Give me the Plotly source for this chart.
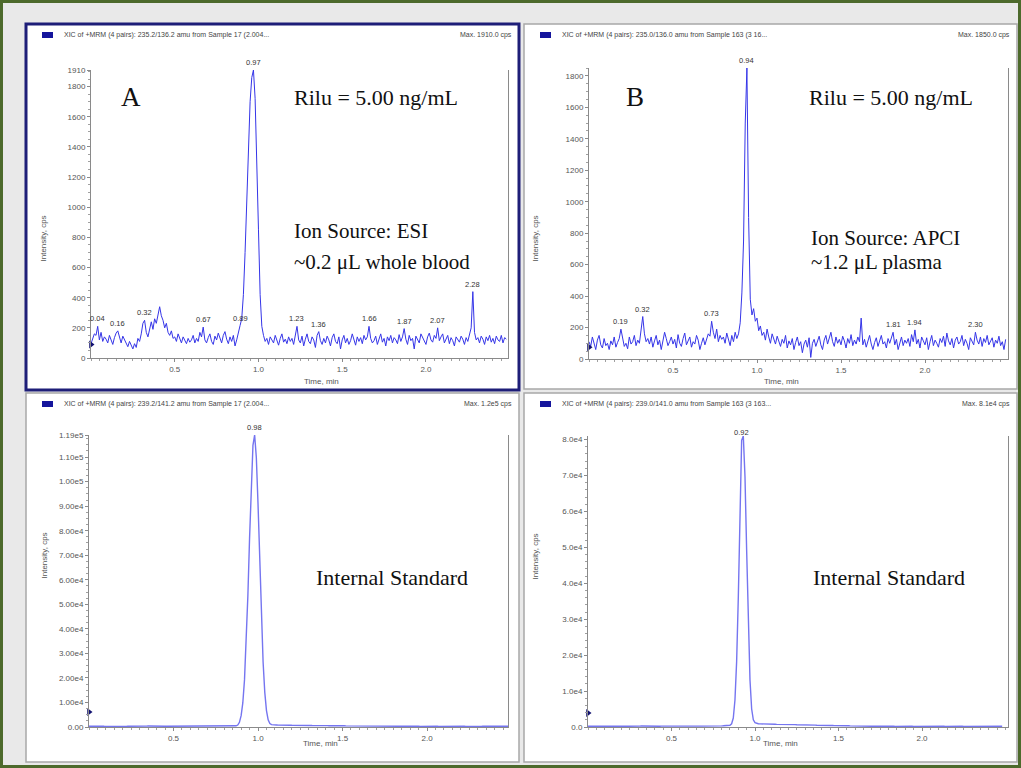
import plotly.graph_objects as go

W, H = 1021, 768

# ---------------- data ----------------
time_start = 0.0
time_step = 0.01

# Panel A: Rilu XIC, ESI (cps), t = 0.00 ... 2.48 min
rilu_esi = [
    95, 130, 160, 150, 210, 120, 170, 110, 140, 125,
    100, 150, 120, 90, 135, 165, 180, 130, 100, 145,
    120, 95, 75, 110, 80, 60, 95, 70, 130, 110,
    160, 230, 250, 170, 140, 200, 240, 190, 260, 230,
    300, 340, 280, 250, 200, 230, 170, 150, 180, 130,
    140, 110, 160, 125, 100, 140, 115, 95, 130, 105,
    120, 150, 100, 130, 110, 170, 140, 205, 120, 100,
    135, 160, 110, 90, 145, 120, 165, 130, 100, 150,
    175, 125, 95, 140, 110, 150, 80, 120, 160, 215,
    260, 420, 700, 1050, 1420, 1700, 1860, 1910, 1720, 1350,
    850, 420, 210, 150, 110, 130, 90, 140, 120, 100,
    150, 115, 85, 130, 160, 105, 125, 95, 140, 110,
    130, 90, 150, 210, 120, 100, 145, 80, 125, 160,
    110, 95, 140, 120, 70, 150, 175, 115, 90, 130,
    100, 145, 120, 80, 135, 160, 110, 95, 140, 60,
    120, 150, 100, 130, 90, 115, 160, 125, 85, 140,
    110, 135, 95, 150, 120, 140, 210, 130, 100, 115,
    145, 90, 125, 160, 105, 130, 80, 140, 115, 150,
    100, 135, 120, 95, 155, 110, 140, 195, 125, 90,
    150, 115, 130, 60, 145, 120, 100, 160, 135, 110,
    90, 140, 165, 120, 105, 150, 130, 200, 115, 140,
    160, 100, 125, 150, 95, 135, 115, 80, 140, 120,
    105, 145, 125, 90, 135, 110, 150, 200, 440, 170,
    120, 135, 100, 145, 125, 90, 140, 115, 150, 105,
    130, 95, 145, 120, 110, 150, 100, 135, 125,
]

# Panel B: Rilu XIC, APCI (cps)
rilu_apci = [
    110, 80, 140, 95, 60, 120, 150, 90, 70, 130,
    85, 100, 60, 115, 90, 140, 75, 105, 130, 190,
    120, 80, 100, 65, 140, 95, 110, 150, 85, 120,
    100, 180, 270, 160, 110, 130, 95, 140, 75, 115,
    150, 90, 120, 60, 105, 170, 130, 85, 110, 140,
    95, 125, 70, 155, 100, 80, 130, 165, 90, 115,
    140, 75, 110, 95, 150, 120, 60, 100, 135, 90,
    120, 160, 145, 240, 170, 130, 190, 110, 150, 125,
    140, 100, 165, 120, 85, 150, 110, 170, 130, 160,
    230, 420, 750, 1500, 1850, 900, 380, 280, 320, 240,
    260, 180, 210, 150, 170, 120, 190, 140, 100, 160,
    130, 95, 145, 110, 80, 125, 100, 150, 70, 115,
    90, 130, 60, 105, 140, 85, 110, 40, 95, 120,
    75, 135, 10, 100, 125, 80, 110, 145, 90, 60,
    120, 150, 95, 130, 170, 110, 80, 140, 100, 125,
    90, 145, 115, 70, 130, 100, 155, 85, 120, 95,
    140, 110, 260, 90, 125, 75, 115, 150, 95, 60,
    105, 135, 80, 120, 150, 95, 110, 70, 130, 100,
    145, 170, 90, 125, 60, 110, 140, 85, 120, 100,
    130, 80, 155, 110, 185, 95, 125, 70, 140, 115,
    90, 135, 60, 110, 150, 85, 120, 100, 75, 130,
    105, 145, 80, 165, 115, 90, 130, 70, 120, 140,
    95, 110, 150, 85, 125, 100, 60, 135, 115, 90,
    170, 120, 95, 140, 80, 130, 105, 150, 90, 115,
    135, 75, 120, 100, 145, 85, 110, 60, 125,
]

# Internal standard XIC, ESI (cps)
is_esi = [
    320, 280, 300, 260, 290, 310, 270, 250, 300, 280,
    260, 300, 290, 270, 310, 280, 260, 300, 270, 290,
    300, 280, 260, 310, 290, 270, 300, 280, 260, 290,
    310, 350, 380, 340, 360, 400, 420, 380, 350, 330,
    360, 390, 410, 370, 340, 320, 300, 310, 290, 280,
    300, 270, 290, 310, 280, 260, 300, 290, 270, 300,
    280, 260, 300, 290, 270, 310, 290, 300, 280, 270,
    300, 290, 320, 280, 300, 310, 290, 330, 350, 380,
    330, 350, 340, 370, 360, 390, 420, 480, 800, 1900,
    4600, 9800, 19200, 33800, 53600, 77000, 99400, 114800, 119000, 109800,
    90900, 67400, 44600, 26500, 14100, 6700, 2900, 1400, 950, 820,
    780, 800, 760, 790, 740, 760, 720, 750, 700, 730,
    690, 710, 670, 700, 650, 680, 640, 660, 620, 650,
    610, 630, 590, 620, 580, 600, 560, 590, 550, 570,
    540, 560, 520, 550, 510, 530, 500, 520, 480, 500,
    470, 490, 450, 460, 430, 420, 400, 390, 380, 370,
    440, 420, 400, 410, 390, 380, 370, 360, 380, 350,
    340, 360, 330, 350, 320, 340, 310, 330, 300, 320,
    310, 290, 320, 300, 280, 310, 290, 270, 300, 280,
    290, 270, 300, 280, 260, 290, 270, 300, 280, 260,
    280, 300, 270, 290, 260, 280, 300, 270, 290, 260,
    270, 290, 260, 300, 280, 270, 290, 260, 280, 300,
    280, 260, 290, 270, 300, 280, 260, 290, 270, 280,
    260, 290, 270, 280, 300, 270, 260, 290, 280, 270,
    290, 270, 280, 260, 300, 280, 270, 290, 280,
]

# Internal standard XIC, APCI (cps)
is_apci = [
    200, 180, 210, 190, 220, 200, 180, 210, 190, 200,
    210, 190, 200, 220, 180, 200, 210, 190, 200, 180,
    200, 220, 190, 210, 200, 180, 210, 200, 190, 220,
    230, 250, 260, 240, 270, 250, 240, 260, 230, 250,
    240, 230, 250, 220, 240, 230, 210, 230, 220, 240,
    220, 210, 230, 200, 220, 210, 230, 200, 220, 210,
    210, 230, 200, 220, 210, 240, 220, 230, 250, 240,
    260, 250, 270, 260, 280, 270, 290, 280, 300, 310,
    320, 340, 360, 380, 420, 500, 900, 2500, 7500, 18200,
    36000, 57900, 79800, 81000, 69800, 49100, 28100, 13100, 5000, 2000,
    1200, 950, 910, 870, 880, 840, 850, 810, 820, 780,
    790, 760, 775, 740, 750, 725, 735, 700, 715, 690,
    695, 660, 675, 640, 655, 620, 630, 600, 610, 585,
    590, 560, 575, 540, 550, 525, 535, 500, 515, 480,
    490, 465, 470, 440, 455, 420, 430, 400, 415, 385,
    390, 365, 375, 340, 350, 325, 335, 300, 310, 285,
    290, 265, 275, 250, 255, 235, 240, 215, 225, 200,
    210, 190, 205, 185, 200, 180, 195, 185, 200, 180,
    190, 200, 185, 195, 180, 200, 190, 185, 200, 190,
    185, 195, 180, 200, 190, 185, 195, 180, 200, 185,
    190, 200, 185, 195, 180, 190, 200, 185, 195, 180,
    200, 190, 185, 195, 180, 200, 190, 185, 195, 200,
    185, 190, 200, 180, 195, 185, 190, 200, 185, 195,
    180, 200, 190, 185, 195, 180, 190, 200, 185, 190,
    195, 185, 200, 180, 190, 195, 185, 200, 190,
]

peaks_rilu_esi = [0.04, 0.16, 0.32, 0.67, 0.89, 0.97, 1.23, 1.36, 1.66, 1.87, 2.07, 2.28]
peaks_rilu_apci = [0.19, 0.32, 0.73, 0.94, 1.81, 1.94, 2.30]
peaks_is_esi = [0.98]
peaks_is_apci = [0.92]

# baseline-threshold markers drawn by the software on the y axis
threshold_levels = [90, 75, 6100, 3900]

headers = [
    ("XIC of +MRM (4 pairs): 235.2/136.2 amu from Sample 17 (2.004...", "Max. 1910.0 cps"),
    ("XIC of +MRM (4 pairs): 235.0/136.0 amu from Sample 163 (3 16...", "Max. 1850.0 cps"),
    ("XIC of +MRM (4 pairs): 239.2/141.2 amu from Sample 17 (2.004...", "Max. 1.2e5 cps"),
    ("XIC of +MRM (4 pairs): 239.0/141.0 amu from Sample 163 (3 163...", "Max. 8.1e4 cps"),
]

y_ticks_a = [0, 200, 400, 600, 800, 1000, 1200, 1400, 1600, 1800, 1910]
y_ticks_b = [0, 200, 400, 600, 800, 1000, 1200, 1400, 1600, 1800]
y_ticks_c = [0, 1e4, 2e4, 3e4, 4e4, 5e4, 6e4, 7e4, 8e4, 9e4, 1.0e5, 1.1e5, 1.19e5]
y_text_c = ["0.00", "1.00e4", "2.00e4", "3.00e4", "4.00e4", "5.00e4", "6.00e4",
            "7.00e4", "8.00e4", "9.00e4", "1.00e5", "1.10e5", "1.19e5"]
y_ticks_d = [0, 1e4, 2e4, 3e4, 4e4, 5e4, 6e4, 7e4, 8e4]
y_text_d = ["0.0", "1.0e4", "2.0e4", "3.0e4", "4.0e4", "5.0e4", "6.0e4", "7.0e4", "8.0e4"]
x_ticks = [0.5, 1.0, 1.5, 2.0]
x_text = ["0.5", "1.0", "1.5", "2.0"]

# ---------------- layout helpers ----------------
def px(x):
    return x / W

def py(y):
    return 1 - y / H

SANS = "Liberation Sans, Arial, sans-serif"
SERIF = "Liberation Serif, Times New Roman, serif"
TICKC = "#555555"
AXC = "#8a8a8a"

panels = [
    dict(s=rilu_esi, peaks=peaks_rilu_esi, yt=y_ticks_a, ytt=[str(v) for v in y_ticks_a],
         xd=(91, 508), yd=(358, 70), xr=2.49, yr=1910, ym=50, col="#3535e8", lw=1.0,
         rect=(26, 24, 519, 390)),
    dict(s=rilu_apci, peaks=peaks_rilu_apci, yt=y_ticks_b, ytt=[str(v) for v in y_ticks_b],
         xd=(589, 1008), yd=(359, 68), xr=2.494, yr=1850, ym=50, col="#3535e8", lw=1.0,
         rect=(524, 24, 1017, 389)),
    dict(s=is_esi, peaks=peaks_is_esi, yt=y_ticks_c, ytt=y_text_c,
         xd=(89, 508), yd=(727, 435), xr=2.479, yr=119000, ym=2500, col="#7575f0", lw=1.4,
         rect=(26, 393, 519, 762)),
    dict(s=is_apci, peaks=peaks_is_apci, yt=y_ticks_d, ytt=y_text_d,
         xd=(588, 1008), yd=(727, 436), xr=2.515, yr=81000, ym=2000, col="#7575f0", lw=1.4,
         rect=(524, 393, 1017, 762)),
]

fig = go.Figure()
shapes = []
annotations = []

# outer frame
shapes.append(dict(type="rect", xref="paper", yref="paper", x0=px(1.5), x1=px(1019.5), y0=py(766.5), y1=py(1.5),
                   line=dict(color="#4d6a2c", width=3), fillcolor="#e9e9e9", layer="below"))

layout_axes = {}
for i, p in enumerate(panels):
    k = "" if i == 0 else str(i + 1)
    xa, ya = "x" + k, "y" + k
    fig.add_trace(go.Scatter(
        y=p["s"], x0=time_start, dx=time_step, mode="lines",
        line=dict(color=p["col"], width=p["lw"]), xaxis=xa, yaxis=ya,
        showlegend=False, hoverinfo="skip"))
    fig.add_trace(go.Scatter(
        x=[0], y=[threshold_levels[i]], mode="markers", xaxis=xa, yaxis=ya,
        marker=dict(symbol="triangle-right", size=7, color="#101070"),
        cliponaxis=False, showlegend=False, hoverinfo="skip"))

    layout_axes["xaxis" + k] = dict(
        domain=[px(p["xd"][0]), px(p["xd"][1])], range=[0, p["xr"]], anchor=ya,
        tickmode="array", tickvals=x_ticks, ticktext=x_text, automargin=False,
        ticks="outside", ticklen=3, tickcolor=AXC, showline=True, linecolor=AXC, linewidth=1,
        showgrid=False, zeroline=False, fixedrange=True,
        tickfont=dict(family=SANS, size=8, color=TICKC),
        minor=dict(ticks="outside", ticklen=2, dtick=0.05, tick0=0, tickcolor="#a0a0a0", showgrid=False))
    layout_axes["yaxis" + k] = dict(
        domain=[py(p["yd"][0]), py(p["yd"][1])], range=[0, p["yr"]], anchor=xa,
        tickmode="array", tickvals=p["yt"], ticktext=p["ytt"], automargin=False,
        ticks="outside", ticklen=3, tickcolor=AXC, showline=True, linecolor=AXC, linewidth=1,
        mirror=True, showgrid=False, zeroline=False, fixedrange=True,
        tickfont=dict(family=SANS, size=8, color=TICKC),
        minor=dict(ticks="outside", ticklen=2, dtick=p["ym"], tick0=0, tickcolor="#a0a0a0", showgrid=False))

    # panel background + border
    x0, y0, x1, y1 = p["rect"]
    if i == 0:
        bl = dict(color="#1e1e78", width=3)
    else:
        bl = dict(color="#a8a8a8", width=1.5)
    shapes.append(dict(type="rect", xref="paper", yref="paper", x0=px(x0), x1=px(x1), y0=py(y1), y1=py(y0),
                       line=bl, fillcolor="white", layer="below"))
    # header square
    shapes.append(dict(type="rect", xref="paper", yref="paper", x0=px(x0 + 16), x1=px(x0 + 27),
                       y0=py(y0 + 14), y1=py(y0 + 8), line=dict(width=0), fillcolor="#15159c", layer="above"))
    annotations.append(dict(xref="paper", yref="paper", x=px(x0 + 36), y=py(y0 + 11), text=headers[i][0],
                            showarrow=False, xanchor="left", yanchor="middle",
                            font=dict(family=SANS, size=7, color="#444444")))
    annotations.append(dict(xref="paper", yref="paper", x=px(x1 - 5), y=py(y0 + 11), text=headers[i][1],
                            showarrow=False, xanchor="right", yanchor="middle",
                            font=dict(family=SANS, size=7, color="#444444")))
    # axis titles
    annotations.append(dict(xref="paper", yref="paper", x=px(x0 + 11), y=py((p["yd"][0] + p["yd"][1]) / 2),
                            text="Intensity, cps", textangle=-90, showarrow=False,
                            font=dict(family=SANS, size=8, color=TICKC)))
    annotations.append(dict(xref="paper", yref="paper", x=px((p["xd"][0] + p["xd"][1]) / 2 + 2),
                            y=py(p["yd"][0] + 23), text="Time, min", showarrow=False,
                            font=dict(family=SANS, size=8, color=TICKC)))
    # peak labels, placed on the series value at the labelled retention time
    for t in p["peaks"]:
        idx = int(round((t - time_start) / time_step))
        yv = p["s"][idx]
        annotations.append(dict(xref=xa, yref=ya, x=t, y=yv, text=f"{t:.2f}", showarrow=False,
                                yanchor="bottom", yshift=1,
                                font=dict(family=SANS, size=7.5, color="#333333")))

# large descriptive text
big = dict(family=SERIF, color="#111111")
texts = [
    ("A", 131, 97, "center", 27),
    ("Rilu = 5.00 ng/mL", 292, 97, "left", 22),
    ("Ion Source: ESI", 292, 231, "left", 21),
    ("~0.2 μL whole blood", 292, 262, "left", 21),
    ("B", 635, 97, "center", 27),
    ("Rilu = 5.00 ng/mL", 807, 97, "left", 22),
    ("Ion Source: APCI", 809, 238, "left", 21),
    ("~1.2 μL plasma", 809, 262, "left", 21),
    ("Internal Standard", 314, 577, "left", 22),
    ("Internal Standard", 811, 577, "left", 22),
]
for txt, x, y, anc, sz in texts:
    annotations.append(dict(xref="paper", yref="paper", x=px(x), y=py(y), text=txt, showarrow=False,
                            xanchor=anc, yanchor="middle", font=dict(size=sz, **big)))

fig.update_layout(
    width=W, height=H, autosize=False,
    margin=dict(l=0, r=0, t=0, b=0, pad=0, autoexpand=False),
    paper_bgcolor="white", plot_bgcolor="rgba(0,0,0,0)",
    shapes=shapes, annotations=annotations, showlegend=False,
    **layout_axes,
)

fig.write_html("out.html",
               config={"responsive": False, "displayModeBar": False, "staticPlot": True},
               post_script="document.body.style.margin='0';document.body.style.overflow='hidden';")
